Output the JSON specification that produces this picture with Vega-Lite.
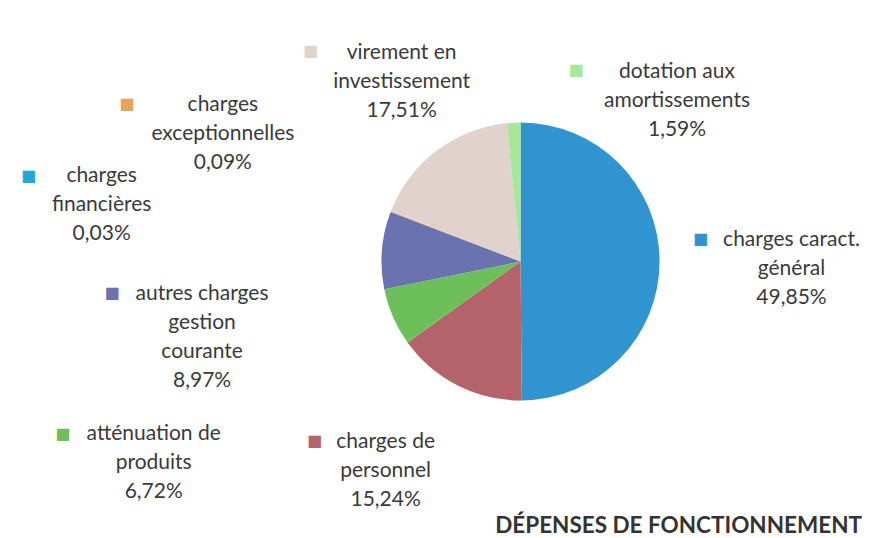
{
  "$schema": "https://vega.github.io/schema/vega-lite/v6.json",
  "width": 683,
  "height": 523,
  "autosize": {"type": "none"},
  "padding": {"left": 179, "top": 0, "right": 20, "bottom": 15},
  "background": "white",
  "config": {"view": {"stroke": null}},
  "title": {"text": "DÉPENSES DE FONCTIONNEMENT", "orient": "bottom", "anchor": "end", "frame": "group", "font": "Lato", "fontSize": 22.5, "fontWeight": "bold", "color": "#333333", "baseline": "top", "offset": -12},
  "data": {"values": [
    {"rank": 1, "cat": "charges caract. général", "value": 49.85, "label": "charges caract.\ngénéral\n49,85%"},
    {"rank": 2, "cat": "charges de personnel", "value": 15.24, "label": "charges de\npersonnel\n15,24%"},
    {"rank": 3, "cat": "atténuation de produits", "value": 6.72, "label": "atténuation de\nproduits\n6,72%"},
    {"rank": 4, "cat": "autres charges gestion courante", "value": 8.97, "label": "autres charges\ngestion\ncourante\n8,97%"},
    {"rank": 5, "cat": "charges financières", "value": 0.03, "label": "charges\nfinancières\n0,03%"},
    {"rank": 6, "cat": "charges exceptionnelles", "value": 0.09, "label": "charges\nexceptionnelles\n0,09%"},
    {"rank": 7, "cat": "virement en investissement", "value": 17.51, "label": "virement en\ninvestissement\n17,51%"},
    {"rank": 8, "cat": "dotation aux amortissements", "value": 1.59, "label": "dotation aux\namortissements\n1,59%"}
  ]},
  "encoding": {
    "theta": {"field": "value", "type": "quantitative", "stack": true},
    "order": {"field": "rank", "type": "quantitative"},
    "detail": {"field": "cat"}
  },
  "layer": [
    {"mark": {"type": "arc", "outerRadius": 139},
     "encoding": {"color": {"field": "cat", "type": "nominal", "legend": null,
       "scale": {"domain": ["charges caract. général", "charges de personnel", "atténuation de produits", "autres charges gestion courante", "charges financières", "charges exceptionnelles", "virement en investissement", "dotation aux amortissements"],
                 "range": ["#2f94cf", "#b5636b", "#6dbf5a", "#6b72b0", "#1fa8d6", "#e8a357", "#e2d2cd", "#a6e89a"]}}}},

    {"mark": {"type": "text", "radius": 170, "dx": 101, "dy": -32, "align": "center", "baseline": "top", "font": "Lato", "fontSize": 21, "lineHeight": 29, "lineBreak": "\n", "color": "#3a3a3a"},
     "encoding": {"text": {"condition": {"test": "datum.rank === 1", "field": "label"}, "value": ""}}},
    {"mark": {"type": "text", "radius": 170, "dx": -58, "dy": 18, "align": "center", "baseline": "top", "font": "Lato", "fontSize": 21, "lineHeight": 29, "lineBreak": "\n", "color": "#3a3a3a"},
     "encoding": {"text": {"condition": {"test": "datum.rank === 2", "field": "label"}, "value": ""}}},
    {"mark": {"type": "text", "radius": 170, "dx": -211, "dy": 93, "align": "center", "baseline": "top", "font": "Lato", "fontSize": 21, "lineHeight": 29, "lineBreak": "\n", "color": "#3a3a3a"},
     "encoding": {"text": {"condition": {"test": "datum.rank === 3", "field": "label"}, "value": ""}}},
    {"mark": {"type": "text", "radius": 170, "dx": -149, "dy": 35, "align": "center", "baseline": "top", "font": "Lato", "fontSize": 21, "lineHeight": 29, "lineBreak": "\n", "color": "#3a3a3a"},
     "encoding": {"text": {"condition": {"test": "datum.rank === 4", "field": "label"}, "value": ""}}},
    {"mark": {"type": "text", "radius": 170, "dx": -260, "dy": -36, "align": "center", "baseline": "top", "font": "Lato", "fontSize": 21, "lineHeight": 29, "lineBreak": "\n", "color": "#3a3a3a"},
     "encoding": {"text": {"condition": {"test": "datum.rank === 5", "field": "label"}, "value": ""}}},
    {"mark": {"type": "text", "radius": 170, "dx": -139, "dy": -106, "align": "center", "baseline": "top", "font": "Lato", "fontSize": 21, "lineHeight": 29, "lineBreak": "\n", "color": "#3a3a3a"},
     "encoding": {"text": {"condition": {"test": "datum.rank === 6", "field": "label"}, "value": ""}}},
    {"mark": {"type": "text", "radius": 170, "dx": -16, "dy": -84, "align": "center", "baseline": "top", "font": "Lato", "fontSize": 21, "lineHeight": 29, "lineBreak": "\n", "color": "#3a3a3a"},
     "encoding": {"text": {"condition": {"test": "datum.rank === 7", "field": "label"}, "value": ""}}},
    {"mark": {"type": "text", "radius": 170, "dx": 165, "dy": -31, "align": "center", "baseline": "top", "font": "Lato", "fontSize": 21, "lineHeight": 29, "lineBreak": "\n", "color": "#3a3a3a"},
     "encoding": {"text": {"condition": {"test": "datum.rank === 8", "field": "label"}, "value": ""}}},

    {"mark": {"type": "text", "radius": 170, "dx": 10, "dy": -22, "align": "center", "baseline": "middle", "font": "DejaVu Sans", "fontSize": 16},
     "encoding": {"color": {"field": "cat", "type": "nominal", "legend": null}, "text": {"condition": {"test": "datum.rank === 1", "value": "■"}, "value": ""}}},
    {"mark": {"type": "text", "radius": 170, "dx": -129, "dy": 28, "align": "center", "baseline": "middle", "font": "DejaVu Sans", "fontSize": 16},
     "encoding": {"color": {"field": "cat", "type": "nominal", "legend": null}, "text": {"condition": {"test": "datum.rank === 2", "value": "■"}, "value": ""}}},
    {"mark": {"type": "text", "radius": 170, "dx": -302, "dy": 104, "align": "center", "baseline": "middle", "font": "DejaVu Sans", "fontSize": 16},
     "encoding": {"color": {"field": "cat", "type": "nominal", "legend": null}, "text": {"condition": {"test": "datum.rank === 3", "value": "■"}, "value": ""}}},
    {"mark": {"type": "text", "radius": 170, "dx": -239, "dy": 45, "align": "center", "baseline": "middle", "font": "DejaVu Sans", "fontSize": 16},
     "encoding": {"color": {"field": "cat", "type": "nominal", "legend": null}, "text": {"condition": {"test": "datum.rank === 4", "value": "■"}, "value": ""}}},
    {"mark": {"type": "text", "radius": 170, "dx": -333, "dy": -25, "align": "center", "baseline": "middle", "font": "DejaVu Sans", "fontSize": 16},
     "encoding": {"color": {"field": "cat", "type": "nominal", "legend": null}, "text": {"condition": {"test": "datum.rank === 5", "value": "■"}, "value": ""}}},
    {"mark": {"type": "text", "radius": 170, "dx": -235, "dy": -96, "align": "center", "baseline": "middle", "font": "DejaVu Sans", "fontSize": 16},
     "encoding": {"color": {"field": "cat", "type": "nominal", "legend": null}, "text": {"condition": {"test": "datum.rank === 6", "value": "■"}, "value": ""}}},
    {"mark": {"type": "text", "radius": 170, "dx": -107, "dy": -75, "align": "center", "baseline": "middle", "font": "DejaVu Sans", "fontSize": 16},
     "encoding": {"color": {"field": "cat", "type": "nominal", "legend": null}, "text": {"condition": {"test": "datum.rank === 7", "value": "■"}, "value": ""}}},
    {"mark": {"type": "text", "radius": 170, "dx": 64, "dy": -22, "align": "center", "baseline": "middle", "font": "DejaVu Sans", "fontSize": 16},
     "encoding": {"color": {"field": "cat", "type": "nominal", "legend": null}, "text": {"condition": {"test": "datum.rank === 8", "value": "■"}, "value": ""}}}
  ]
}
